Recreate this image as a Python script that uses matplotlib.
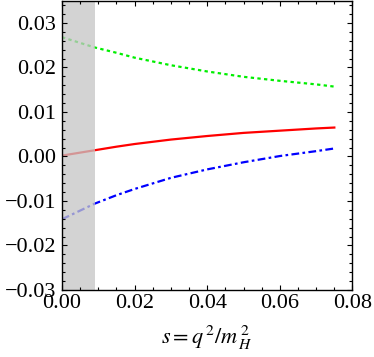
import matplotlib
matplotlib.use("Agg")
import matplotlib.pyplot as plt
from matplotlib.ticker import MultipleLocator, FuncFormatter

plt.rcParams['font.family'] = ['Liberation Serif', 'DejaVu Serif']
plt.rcParams['mathtext.fontset'] = 'stix'

# values
s = [0.0, 0.009, 0.015, 0.02, 0.03, 0.04, 0.05, 0.06, 0.07, 0.075]
green = [0.0268, 0.0245, 0.0233, 0.0222, 0.0205, 0.0191, 0.0179, 0.0170, 0.0162, 0.0157]
red = [0.0002, 0.0014, 0.0022, 0.0028, 0.0038, 0.0046, 0.0053, 0.0058, 0.0063, 0.0065]
blue = [-0.0141, -0.0106, -0.0087, -0.0073, -0.0048, -0.0029, -0.0013, 0.0001, 0.0012, 0.0018]
s_cut = 0.009

fig = plt.figure(figsize=(3.74, 3.57), dpi=100)
ax = fig.add_axes([0.1658, 0.1877, 0.9425 - 0.1658, 0.998 - 0.1877])

ax.plot(s, green, color='#00ee00', lw=1.6, dashes=(1.5, 1.5))
ax.plot(s, red, color='red', lw=1.6)
ax.plot(s, blue, color='blue', lw=1.6, dashes=(3.5, 1.5, 1.2, 1.5))

# shaded region drawn over the curves so they look faded inside it
ax.axvspan(0, s_cut, color='#c5c5c5', alpha=0.76, lw=0, zorder=3)

ax.set_xlim(0, 0.08)
ax.set_ylim(-0.03, 0.035)

ax.xaxis.set_major_locator(MultipleLocator(0.02))
ax.xaxis.set_minor_locator(MultipleLocator(0.005))
ax.yaxis.set_major_locator(MultipleLocator(0.01))
ax.yaxis.set_minor_locator(MultipleLocator(0.002))
fmt = FuncFormatter(lambda v, p: f'{v:.2f}'.replace('-', '\u2212'))
ax.xaxis.set_major_formatter(fmt)
ax.yaxis.set_major_formatter(fmt)

ax.tick_params(which='both', direction='in', top=True, right=True,
               labelsize=16, width=0.8, pad=3)
ax.tick_params(which='major', length=3.6)
ax.tick_params(which='minor', length=2.2)
ax.tick_params(axis='y', pad=4)
ax.xaxis.set_zorder(5)
ax.yaxis.set_zorder(5)
for sp in ax.spines.values():
    sp.set_zorder(6)
    sp.set_linewidth(1.0)

ax.set_xlabel(r'$s=q^{\,2}/m_{\,H}^{\,2}$', fontsize=16, labelpad=8)

fig.savefig('out.png', dpi=100)
